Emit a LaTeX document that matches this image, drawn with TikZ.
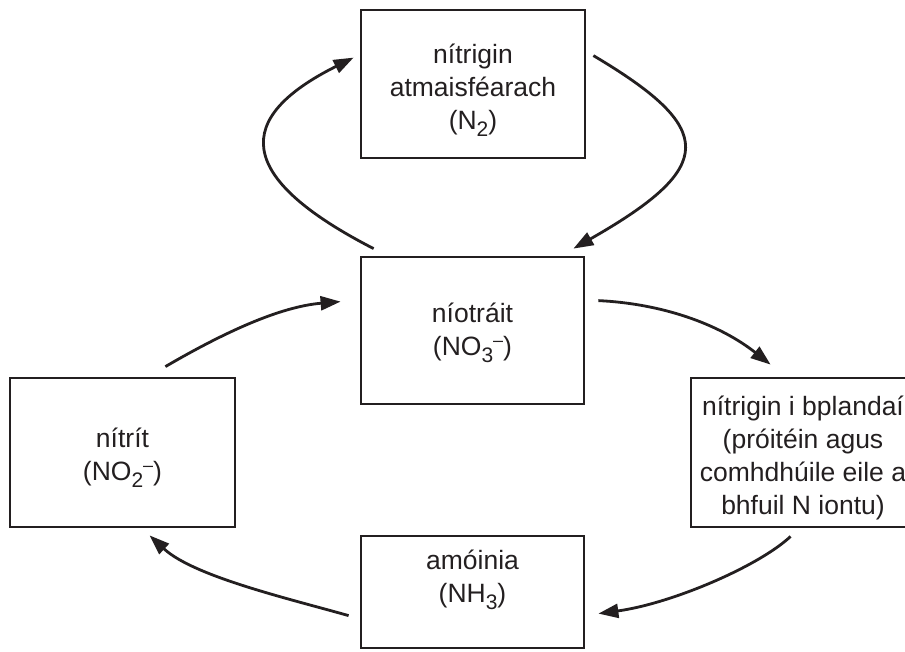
\documentclass[tikz,border=0pt]{standalone}
\usepackage{fontspec}
\setmainfont{Liberation Sans}
\usetikzlibrary{arrows.meta,calc}
\definecolor{ink}{HTML}{231F20}
\newcommand\mysub[1]{\raisebox{-7pt}{\fontsize{21}{21}\selectfont #1}}
\newcommand\myminus{\raisebox{9pt}{\fontsize{18}{18}\selectfont –}}
\begin{document}
\begin{tikzpicture}[x=1pt,y=-1pt,
  box/.style={draw=ink, line width=2.8pt, inner sep=0pt},
  lbl/.style={align=center, font=\fontsize{26.5}{33}\selectfont, inner sep=0pt, text=ink},
  arr/.style={draw=ink, line width=2.8pt, -{Triangle[length=20pt,width=14pt]}}]
\useasboundingbox (0,0) rectangle (905,651);
\clip (0,0) rectangle (905,651);
% boxes
\node[box, minimum width=224pt, minimum height=148pt] (top) at (473,84) {};
\node[box, minimum width=223pt, minimum height=147pt] (mid) at (472.5,330.5) {};
\node[box, minimum width=225pt, minimum height=149pt] (left) at (122.5,452.5) {};
\node[box, minimum width=224pt, minimum height=149pt] (right) at (803,452.5) {};
\node[box, minimum width=223pt, minimum height=112pt] (bottom) at (472.5,592) {};
% labels
\node[lbl] (topT) at (473,90) {nítrigin\\atmaisféarach\\(N\mysub{2})};
\node[lbl] (midT) at (472.5,333) {níotráit\\(NO\mysub{3}\myminus)};
\node[lbl] (leftT) at (122.5,458) {nítrít\\(NO\mysub{2}\myminus)};
\node[lbl] (rightT) at (803,457.5) {nítrigin i bplandaí\\(próitéin agus\\comhdhúile eile a\\bhfuil N iontu)};
\node[lbl] (bottomT) at (472.5,580) {amóinia\\(NH\mysub{3})};
% arrows
\draw[arr] ($(mid.north west)+(14,-7)$) .. controls +(-140,-72) and +(-120,60) .. ($(top.north west)+(-6,49)$);
\draw[arr] ($(top.north east)+(7,47)$) .. controls +(123,73) and +(144,-82) .. ($(mid.north east)+(-12,-7)$);
\draw[arr] ($(left.north east)+(-71,-10)$) .. controls +(60,-35) and +(-60,5) .. ($(mid.north west)+(-19,46)$);
\draw[arr] ($(mid.north east)+(13,45)$) .. controls +(63,3) and +(-52,-41) .. ($(right.north west)+(81,-12)$);
\draw[arr] ($(right.south west)+(101,8)$) .. controls +(-32,30) and +(73,-10) .. ($(bottom.north east)+(13,79)$);
\draw[arr] ($(bottom.north west)+(-11,81)$) .. controls +(-60,-17) and +(44,41) .. ($(left.south west)+(141,7)$);
\end{tikzpicture}
\end{document}
